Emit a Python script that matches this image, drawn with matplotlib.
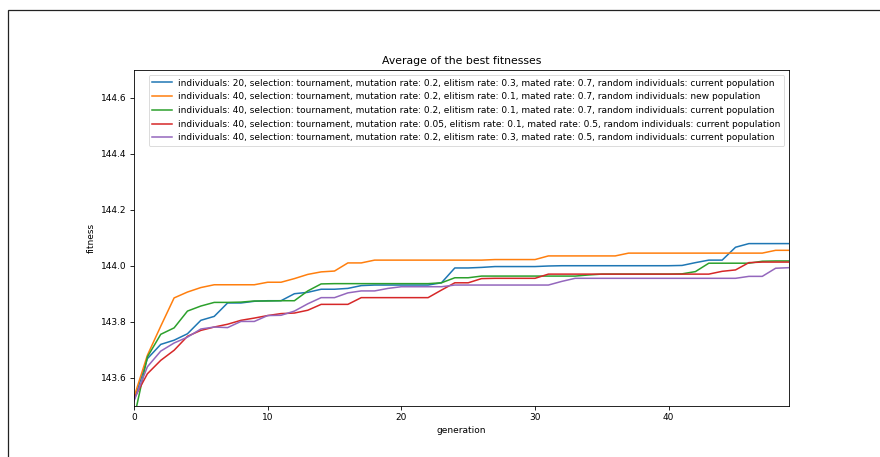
import matplotlib
matplotlib.use("Agg")
import matplotlib.pyplot as plt
from matplotlib.patches import Rectangle

generations = list(range(50))

labels = [
    "individuals: 20, selection: tournament, mutation rate: 0.2, elitism rate: 0.3, mated rate: 0.7, random individuals: current population",
    "individuals: 40, selection: tournament, mutation rate: 0.2, elitism rate: 0.1, mated rate: 0.7, random individuals: new population",
    "individuals: 40, selection: tournament, mutation rate: 0.2, elitism rate: 0.1, mated rate: 0.7, random individuals: current population",
    "individuals: 40, selection: tournament, mutation rate: 0.05, elitism rate: 0.1, mated rate: 0.5, random individuals: current population",
    "individuals: 40, selection: tournament, mutation rate: 0.2, elitism rate: 0.3, mated rate: 0.5, random individuals: current population",
]

blue = [143.520, 143.669, 143.720, 143.735, 143.758, 143.806, 143.820, 143.868, 143.868, 143.874,
        143.876, 143.876, 143.901, 143.906, 143.917, 143.917, 143.920, 143.930, 143.932, 143.932,
        143.932, 143.932, 143.932, 143.940, 143.993, 143.993, 143.995, 143.998, 143.998, 143.998,
        143.998, 144.000, 144.001, 144.001, 144.001, 144.001, 144.001, 144.001, 144.001, 144.001,
        144.001, 144.002, 144.012, 144.021, 144.021, 144.067, 144.080, 144.080, 144.080, 144.080]

orange = [143.532, 143.681, 143.785, 143.886, 143.907, 143.923, 143.933, 143.933, 143.933, 143.933,
          143.942, 143.942, 143.955, 143.970, 143.979, 143.982, 144.011, 144.011, 144.021, 144.021,
          144.021, 144.021, 144.021, 144.021, 144.021, 144.021, 144.021, 144.023, 144.023, 144.023,
          144.023, 144.036, 144.036, 144.036, 144.036, 144.036, 144.036, 144.046, 144.046, 144.046,
          144.046, 144.046, 144.046, 144.046, 144.046, 144.046, 144.046, 144.046, 144.056, 144.056]

green = [143.456, 143.675, 143.756, 143.779, 143.839, 143.857, 143.870, 143.870, 143.871, 143.875,
         143.875, 143.876, 143.876, 143.911, 143.936, 143.937, 143.937, 143.937, 143.937, 143.937,
         143.937, 143.937, 143.937, 143.940, 143.958, 143.958, 143.964, 143.964, 143.964, 143.964,
         143.964, 143.964, 143.964, 143.964, 143.968, 143.971, 143.971, 143.971, 143.971, 143.971,
         143.971, 143.972, 143.980, 144.010, 144.010, 144.010, 144.010, 144.017, 144.018, 144.018]

red = [143.526, 143.615, 143.663, 143.699, 143.749, 143.770, 143.782, 143.792, 143.806, 143.814,
       143.823, 143.830, 143.832, 143.842, 143.863, 143.863, 143.863, 143.887, 143.887, 143.887,
       143.887, 143.887, 143.887, 143.914, 143.940, 143.940, 143.955, 143.956, 143.956, 143.956,
       143.956, 143.971, 143.971, 143.971, 143.971, 143.971, 143.971, 143.971, 143.971, 143.971,
       143.971, 143.971, 143.971, 143.971, 143.981, 143.986, 144.012, 144.014, 144.014, 144.014]

purple = [143.518, 143.640, 143.696, 143.725, 143.746, 143.775, 143.782, 143.780, 143.802, 143.802,
          143.823, 143.824, 143.839, 143.865, 143.887, 143.887, 143.904, 143.911, 143.911, 143.920,
          143.926, 143.926, 143.926, 143.926, 143.932, 143.932, 143.932, 143.932, 143.932, 143.932,
          143.932, 143.932, 143.945, 143.956, 143.956, 143.956, 143.956, 143.956, 143.956, 143.956,
          143.956, 143.956, 143.956, 143.956, 143.956, 143.956, 143.963, 143.963, 143.992, 143.994]

series = [blue, orange, green, red, purple]
colors = ["#1f77b4", "#ff7f0e", "#2ca02c", "#d62728", "#9467bd"]

x_ticks = [0, 10, 20, 30, 40]
y_ticks = [143.6, 143.8, 144.0, 144.2, 144.4, 144.6]

fig = plt.figure(figsize=(8.8, 4.57), dpi=100)
ax = fig.add_axes([134/880, 1 - 406/457, (789-134)/880, (406-70)/457])

for vals, lab, c in zip(series, labels, colors):
    ax.plot(generations, vals, color=c, label=lab, linewidth=1.1)

ax.set_xlim(0, 49)
ax.set_ylim(143.5, 144.7)
ax.set_xticks(x_ticks)
ax.set_yticks(y_ticks)
ax.set_yticklabels([f"{v:.1f}" for v in y_ticks])
ax.tick_params(labelsize=6.5, width=0.6, length=2.6, pad=2.5)
for s in ax.spines.values():
    s.set_linewidth(0.6)
ax.set_title("Average of the best fitnesses", fontsize=7.8, pad=4.5)
ax.set_xlabel("generation", fontsize=6.5, labelpad=3)
ax.set_ylabel("fitness", fontsize=6.5, labelpad=4)
leg = ax.legend(loc="upper center", bbox_to_anchor=(0.5076, 1.0), fontsize=6.5,
                handlelength=2.2, borderpad=0.4, labelspacing=0.52,
                handletextpad=0.7, borderaxespad=0.55)
leg.get_frame().set_linewidth(0.6)

fig.patches.append(Rectangle((8/880, -0.5), 2.0, 1.5 - 10/457 + 0.0,
                             transform=fig.transFigure, fill=False,
                             edgecolor="#222222", linewidth=0.9))

fig.savefig("out.png", dpi=100)
